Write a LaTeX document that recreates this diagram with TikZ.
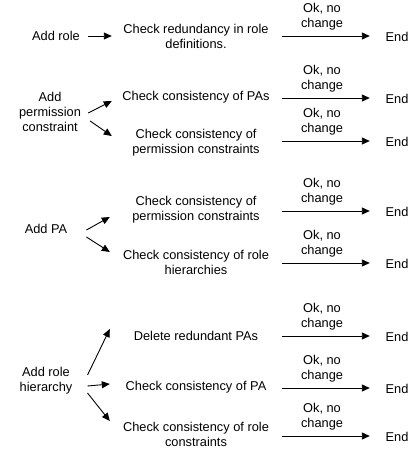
\documentclass[tikz,border=0pt]{standalone}
\usepackage{fontspec}
\setmainfont{Liberation Sans}
\usetikzlibrary{arrows.meta}
\begin{document}
\begin{tikzpicture}[x=1pt,y=-1pt,
  txt/.style={inner sep=0pt,align=center,font=\fontsize{12.8}{15}\selectfont},
  chk/.style={txt,minimum width=156pt},
  lbl/.style={txt,above=5.5pt,xshift=-4pt},
  arr/.style={line width=0.9pt,-{Triangle[length=8pt,width=7pt]}}]
\useasboundingbox (0,0) rectangle (415,450);
% left column
\node[txt] (a1) at (56,36) {Add role};
\node[txt] (a2) at (50,112) {Add\\permission\\constraint};
\node[txt] (a3) at (46,229) {Add PA};
\node[txt] (a4) at (46,381) {Add role\\hierarchy};
% checks
\node[chk] (c1) at (196,36) {Check redundancy in role\\definitions.};
\node[chk] (c2) at (196,97) {Check consistency of PAs};
\node[chk] (c3) at (196,143) {Check consistency of\\permission constraints};
\node[chk] (c4) at (196,210) {Check consistency of\\permission constraints};
\node[chk] (c5) at (196,262) {Check consistency of role\\hierarchies};
\node[chk] (c6) at (196,336) {Delete redundant PAs};
\node[chk] (c7) at (196,387) {Check consistency of PA};
\node[chk] (c8) at (196,434) {Check consistency of role\\constraints};
% ends
\foreach \n/\y in {1/36,2/98,3/141,4/211,5/263,6/336,7/388,8/436}
  \node[txt] (e\n) at (397,\y+1) {End};
% right arrows
\foreach \n in {1,...,8}
  \draw[arr] ([xshift=8pt,yshift=1pt]e\n.west -| c\n.east) -- node[lbl]{Ok, no\\change} ([xshift=-15.6pt,yshift=1pt]e\n.west);
% left arrows
\draw[arr] ([xshift=8pt]a1.east) -- ([xshift=-6pt]c1.west);
\draw[arr] ([xshift=7pt,yshift=-1pt]a2.east) -- ([xshift=-6pt,yshift=-4pt]c2.west);
\draw[arr] ([xshift=9pt,yshift=-9pt]a2.east) -- ([xshift=-6pt,yshift=7pt]c3.west);
\draw[arr] ([xshift=19pt,yshift=-1pt]a3.east) -- ([xshift=-8pt,yshift=-7pt]c4.west);
\draw[arr] ([xshift=19pt,yshift=-8pt]a3.east) -- ([xshift=-8pt,yshift=10pt]c5.west);
\draw[arr] ([xshift=15pt,yshift=6pt]a4.east) -- ([xshift=-8pt,yshift=7pt]c6.west);
\draw[arr] ([xshift=15pt,yshift=-5pt]a4.east) -- ([xshift=-8pt,yshift=3pt]c7.west);
\draw[arr] ([xshift=15pt,yshift=-12pt]a4.east) -- ([xshift=-8pt,yshift=13pt]c8.west);
\end{tikzpicture}
\end{document}
